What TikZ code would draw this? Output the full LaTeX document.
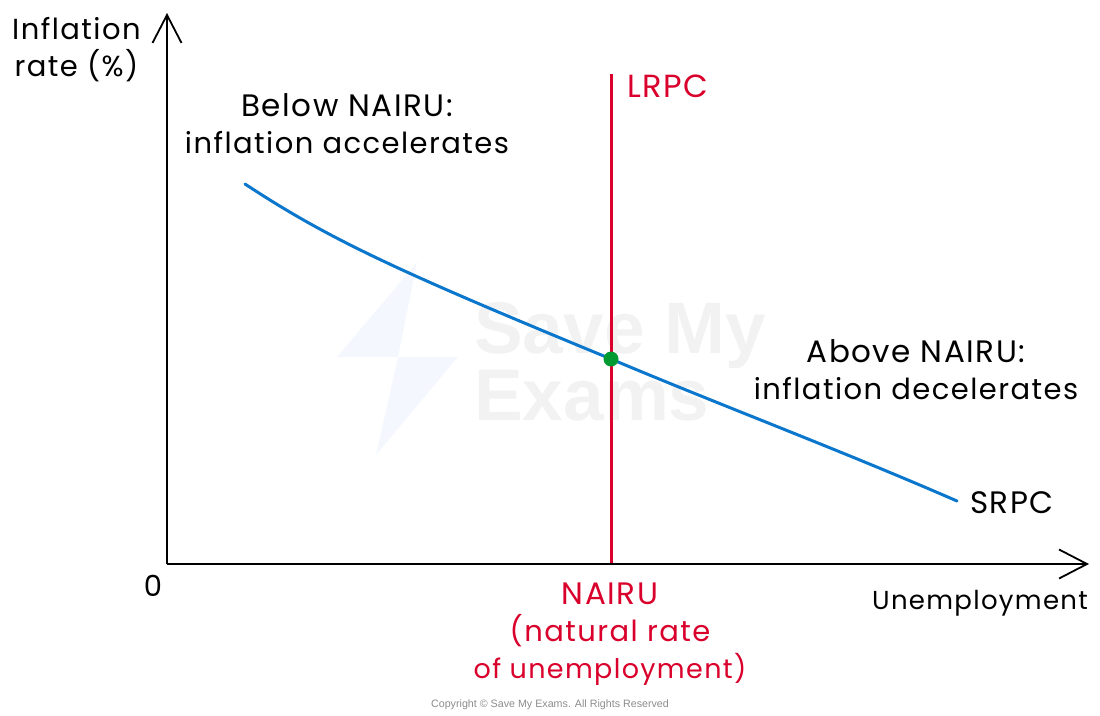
\documentclass[tikz,border=0pt]{standalone}
\usepackage{fontspec}
\setmainfont[LetterSpace=5]{Poppins}
\newfontfamily\plainfont{Liberation Sans}
\usetikzlibrary{arrows.meta}
\definecolor{lrpcred}{HTML}{D9002B}
\definecolor{srpcblue}{HTML}{0A76CC}
\definecolor{dotgreen}{HTML}{009A33}
\definecolor{boltblue}{HTML}{F4F8FE}
\newcommand\sz[1]{\fontsize{#1}{37}\selectfont}
\tikzset{
  axis/.style={line width=2pt,-{Straight Barb[length=28pt,width=29pt,line width=1.8pt]}},
  lbl/.style={align=center,inner sep=0pt,font=\sz{29}},
  redlbl/.style={lbl,text=lrpcred},
  mark text/.style={inner sep=0pt,text=black!5,font=\plainfont\bfseries\fontsize{73}{65}\selectfont,align=left}
}
\begin{document}
\begin{tikzpicture}[x=1pt,y=-1pt]
  \useasboundingbox (0,0) rectangle (1100,715);

  % faint marks behind the curves
  \fill[boltblue] (417,262) -- (337,357) -- (398,357) -- (376,455) -- (458,357) -- (398,357) -- cycle;
  \node[mark text,anchor=west] (brand) at (474,362) {Save My\\Exams};

  \coordinate (origin) at (167,564);
  \coordinate (ytip) at (167,13);
  \coordinate (xtip) at (1089,564);
  \coordinate (lrpctop) at (611,74);
  \coordinate (lrpcfoot) at (611,564);
  \coordinate (srpcstart) at (245,184);
  \coordinate (srpcend) at (957,501);
  \coordinate (nairupt) at (611,359);

  \draw[line width=3pt,lrpcred] (lrpctop) -- (lrpcfoot);
  \draw[line width=3pt,srpcblue,line cap=round] (srpcstart)
    .. controls (330,240) and (400,272) .. (nairupt)
    .. controls (720,405) and (840,450) .. (srpcend);
  \draw[axis] (origin) -- (ytip);
  \draw[axis] (origin) -- (xtip);
  \fill[dotgreen] (nairupt) circle (7.5pt);

  \node[lbl,anchor=west] (ylabel) at (12,50) {Inflation\\rate (\%)};
  \node[lbl] (belowlbl) at (347,124) {\sz{31}Below NAIRU:\\\sz{29}inflation accelerates};
  \node[lbl] (abovelbl) at (916,370) {\sz{31}Above NAIRU:\\\sz{29}inflation decelerates};
  \node[redlbl,anchor=west] (lrpclbl) at (627,86) {\sz{32}LRPC};
  \node[lbl,anchor=west] (srpclbl) at (970,503) {\sz{31}SRPC};
  \node[lbl] (zero) at (153,586) {0};
  \node[lbl] (xlabel) at (980,603) {\sz{26}Unemployment};
  \node[redlbl] (nairulbl) at (610,634) {\sz{31}NAIRU\\\sz{29}(natural rate\\\sz{27}of unemployment)};
  \node[inner sep=0pt,text=black!45,font=\plainfont\fontsize{10.7}{13}\selectfont] (copy) at (550,705)
    {Copyright © Save My Exams. All Rights Reserved};
\end{tikzpicture}
\end{document}
